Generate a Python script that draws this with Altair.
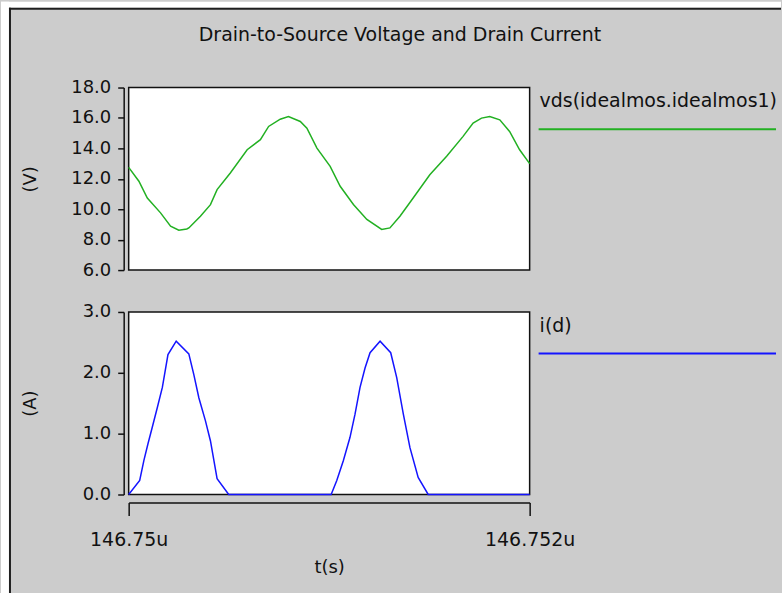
import altair as alt
import pandas as pd

# ---------------- data ----------------
chart_title = "Drain-to-Source Voltage and Drain Current"
legend_labels = ["vds(idealmos.idealmos1)", "i(d)"]
y_titles = ["(V)", "(A)"]
x_title = "t(s)"
x_ticks = [146.75, 146.752]
x_tick_labels = ["146.75u", "146.752u"]
v_ticks = [6, 8, 10, 12, 14, 16, 18]
i_ticks = [0, 1, 2, 3]

# time in microseconds
t_v = [146.750000, 146.750051, 146.750093, 146.750159, 146.750209, 146.750250,
       146.750290, 146.750300, 146.750358, 146.750408, 146.750441, 146.750507,
       146.750591, 146.750657, 146.750698, 146.750756, 146.750797, 146.750856,
       146.750889, 146.750939, 146.751005, 146.751055, 146.751121, 146.751188,
       146.751262, 146.751303, 146.751353, 146.751419, 146.751502, 146.751586,
       146.751668, 146.751718, 146.751760, 146.751801, 146.751851, 146.751900,
       146.751950, 146.752000]
vds = [12.75, 11.84, 10.74, 9.76, 8.89, 8.62,
       8.70, 8.77, 9.54, 10.30, 11.29, 12.38,
       13.91, 14.57, 15.44, 15.92, 16.10, 15.77,
       15.33, 14.02, 12.82, 11.51, 10.31, 9.33,
       8.67, 8.77, 9.54, 10.74, 12.27, 13.48,
       14.79, 15.66, 15.99, 16.10, 15.88, 15.11,
       13.91, 13.00]

t_i = [146.750000, 146.750055, 146.750076, 146.750096, 146.750118, 146.750143,
       146.750168, 146.750196, 146.750237, 146.750300, 146.750325, 146.750350,
       146.750383, 146.750408, 146.750441, 146.750499, 146.751010, 146.751038,
       146.751071, 146.751104, 146.751129, 146.751154, 146.751179, 146.751204,
       146.751254, 146.751307, 146.751337, 146.751370, 146.751403, 146.751444,
       146.751494, 146.752000]
i_d = [0.00, 0.23, 0.56, 0.83, 1.11, 1.43,
       1.76, 2.30, 2.52, 2.31, 1.97, 1.59,
       1.21, 0.88, 0.26, 0.00, 0.00, 0.23,
       0.56, 0.94, 1.32, 1.76, 2.08, 2.33,
       2.52, 2.33, 1.92, 1.32, 0.77, 0.28,
       0.00, 0.00]

# ---------------- style ----------------
FONT = "DejaVu Sans"
FS = 18
FS_BIG = 19
TXT = "#111111"
GREEN = "#22b022"
BLUE = "#1414ff"
W, H = 402, 183

df_v = pd.DataFrame({"t": t_v, "v": vds})
df_i = pd.DataFrame({"t": t_i, "i": i_d})

x_scale = alt.Scale(domain=[x_ticks[0], x_ticks[1]], nice=False, zero=False)


def y_axis(values, title):
    return alt.Axis(
        values=values, format=".1f", title=title, grid=False,
        offset=5, tickSize=6, tickWidth=1.5, domainWidth=1.5,
        domainColor="#111111", tickColor="#111111",
        labelFont=FONT, labelFontSize=FS, labelColor=TXT, labelPadding=7,
        titleFont=FONT, titleFontSize=FS, titleColor=TXT, titleFontWeight="normal",
        titleAngle=270, titleAlign="center", titleBaseline="middle",
        titleX=-93, titleY=H / 2,
    )


def legend(label, color):
    d = alt.Data(values=[{"label": label}])
    txt = alt.Chart(d).mark_text(
        align="left", baseline="alphabetic", font=FONT, fontSize=FS_BIG, color=TXT
    ).encode(x=alt.value(412), y=alt.value(20), text="label:N")
    rule = alt.Chart(d).mark_rule(color=color, strokeWidth=2).encode(
        x=alt.value(411), x2=alt.value(649), y=alt.value(41.7)
    )
    return txt, rule


one = alt.Data(values=[{"k": 1}])


def box(x, x2, y, y2, color):
    return alt.Chart(one).mark_rect(color=color).encode(
        x=alt.value(x), x2=alt.value(x2), y=alt.value(y), y2=alt.value(y2)
    )


# window frame (white margin + dark edge), positioned relative to top panel
frame = [
    box(-128, -120, -86, 507, "white"),
    box(-128, 654, -86, -80, "white"),
    box(-120, -118, -80, 507, "#1e1e1e"),
    box(-120, 654, -80, -78, "#1e1e1e"),
]

title_mark = alt.Chart(alt.Data(values=[{"title": chart_title}])).mark_text(
    align="center", baseline="middle", font=FONT, fontSize=FS_BIG, color=TXT
).encode(x=alt.value(272), y=alt.value(-53), text="title:N")

line_v = alt.Chart(df_v).mark_line(color=GREEN, strokeWidth=1.5).encode(
    x=alt.X("t:Q", scale=x_scale, axis=None),
    y=alt.Y("v:Q", scale=alt.Scale(domain=[6, 18], nice=False, zero=False),
            axis=y_axis(v_ticks, y_titles[0])),
)
lt1, lr1 = legend(legend_labels[0], GREEN)
top = alt.layer(*frame, title_mark, line_v, lt1, lr1).properties(width=W, height=H)

line_i = alt.Chart(df_i).mark_line(color=BLUE, strokeWidth=1.5).encode(
    x=alt.X("t:Q", scale=x_scale,
            axis=alt.Axis(
                values=x_ticks,
                labelExpr=f"datum.value < 146.751 ? '{x_tick_labels[0]}' : '{x_tick_labels[1]}'",
                title=x_title, grid=False, offset=8, tickSize=13,
                tickWidth=1.5, domainWidth=1.5,
                domainColor="#111111", tickColor="#111111",
                labelFont=FONT, labelFontSize=FS_BIG, labelColor=TXT,
                labelPadding=15, labelFlush=False, labelOverlap=False,
                labelBaseline="top",
                titleFont=FONT, titleFontSize=FS, titleColor=TXT,
                titleFontWeight="normal", titleBaseline="middle",
                titleX=W / 2, titleY=65,
            )),
    y=alt.Y("i:Q", scale=alt.Scale(domain=[0, 3], nice=False, zero=False),
            axis=y_axis(i_ticks, y_titles[1])),
)
lt2, lr2 = legend(legend_labels[1], BLUE)
bottom = alt.layer(line_i, lt2, lr2).properties(width=W, height=H)

chart = alt.vconcat(top, bottom, spacing=42, bounds="flush").configure(
    background="#cccccc", padding=0
).configure_view(fill="white", stroke="#111111", strokeWidth=1.5)

chart.save("out.html", embed_options={"renderer": "svg", "actions": False})
